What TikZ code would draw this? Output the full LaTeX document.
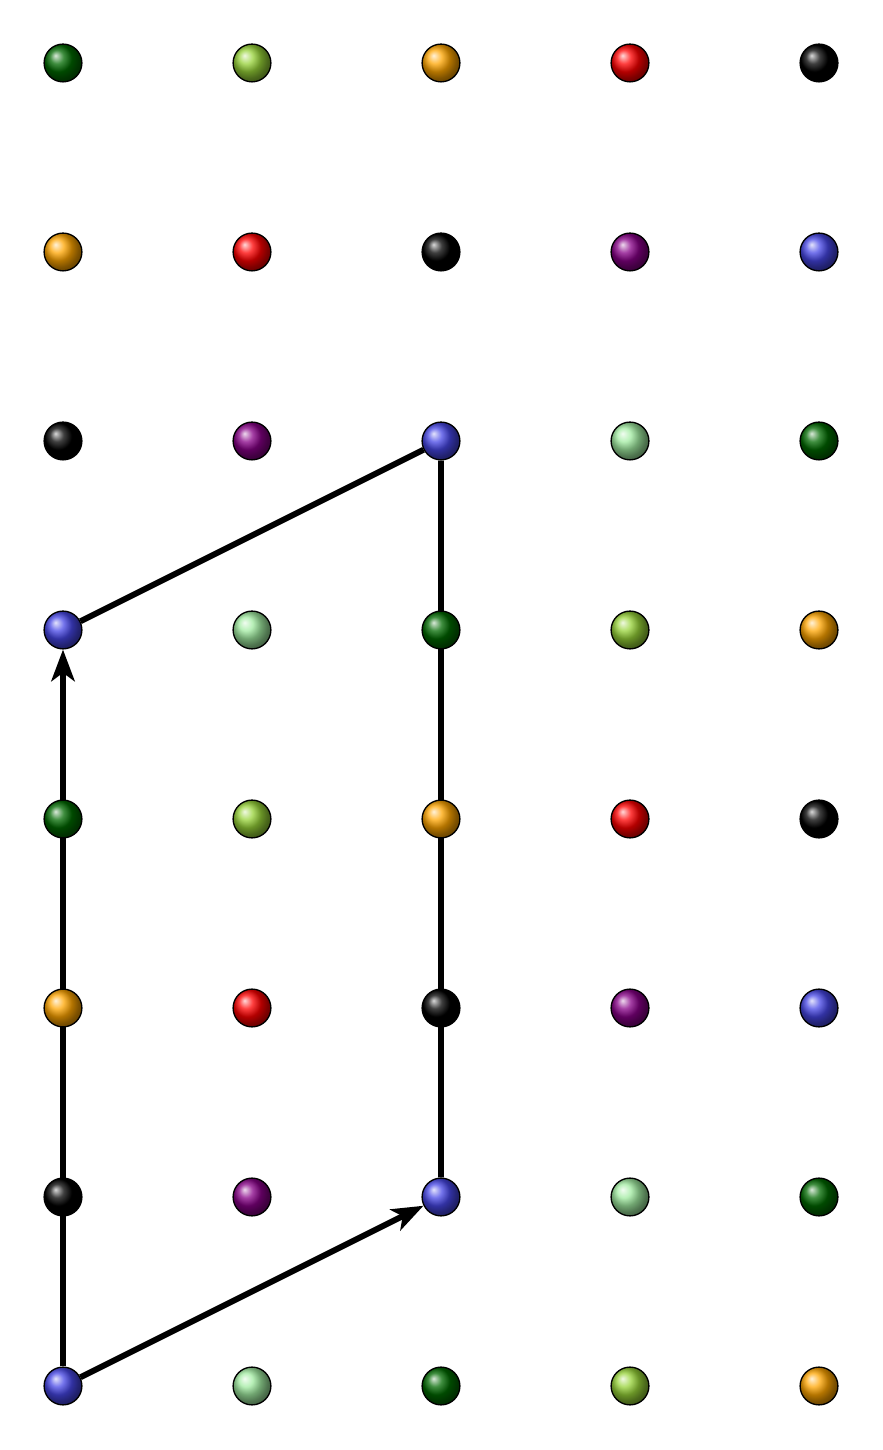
\documentclass[tikz,border=0pt]{standalone}
\usepackage{tikz}
\usetikzlibrary{arrows.meta,backgrounds,positioning}

\definecolor{c0}{RGB}{70,70,230}
\definecolor{c1}{RGB}{160,235,160}
\definecolor{c2}{RGB}{0,105,0}
\definecolor{c3}{RGB}{150,210,55}
\definecolor{c4}{RGB}{255,165,0}
\definecolor{c5}{RGB}{255,0,0}
\definecolor{c6}{RGB}{0,0,0}
\definecolor{c7}{RGB}{135,0,135}

\tikzset{
  ball/.style = {circle, draw = black, line width = 0.4pt, inner sep = 0pt, minimum size = 0.4cm, ball color = #1},
  link/.style = {line width = 1.8pt, black},
  arr/.style  = {link, -{Stealth[length = 9.5pt, width = 7pt, inset = 2.5pt]}}
}

\begin{document}
\begin{tikzpicture}[x = 2cm, y = 2cm]
\useasboundingbox (-0.3333,-0.3386) rectangle (4.3386,7.3333);
\foreach \i in {0,...,4}
  \foreach \j in {0,...,7}{
    \pgfmathtruncatemacro{\k}{mod(\i+6*\j,8)}
    \node[ball = c\k] (p-\i-\j) at (\i,\j) {};
  }
\begin{scope}[on background layer]
\draw[arr] (p-0-0) -- (p-2-1);
\draw[arr] (p-0-0) -- (p-0-4);
\draw[link] (p-0-4) -- (p-2-5) -- (p-2-1);
\end{scope}
\end{tikzpicture}
\end{document}
